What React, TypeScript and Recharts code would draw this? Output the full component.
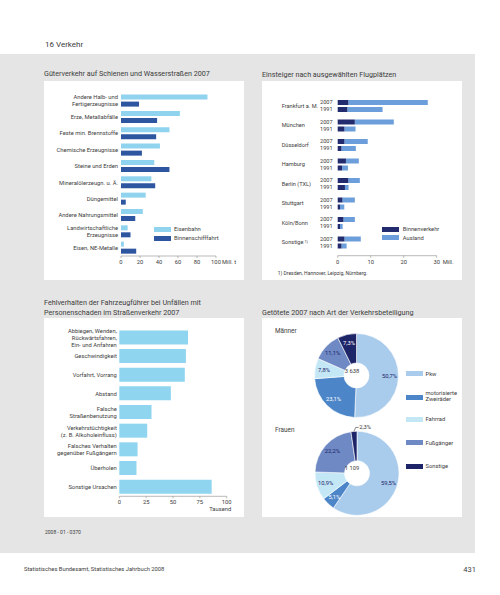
import React from 'react';
import { BarChart, Bar, XAxis, YAxis, PieChart, Pie, Cell } from 'recharts';

const FONT = 'Roboto, "Open Sans", sans-serif';
const TEXT = '#3c3c3c';

// Güterverkehr auf Schienen und Wasserstraßen 2007 (Mill. t)
const goodsCategories = [
  'Andere Halb- und|Fertigerzeugnisse',
  'Erze, Metallabfälle',
  'Feste min. Brennstoffe',
  'Chemische Erzeugnisse',
  'Steine und Erden',
  'Mineralölerzeugn. u. Ä.',
  'Düngemittel',
  'Andere Nahrungsmittel',
  'Landwirtschaftliche|Erzeugnisse',
  'Eisen, NE-Metalle',
];
const railValues = [91, 62, 51, 41, 35, 32, 26, 23, 7, 3];
const waterwayValues = [19, 38, 37, 22, 51, 36, 5, 15, 10, 16];
const goodsTicks = [0, 20, 40, 60, 80, 100];

// Einsteiger nach ausgewählten Flugplätzen (Mill.)
const airports = ['Frankfurt a. M.', 'München', 'Düsseldorf', 'Hamburg', 'Berlin (TXL)', 'Stuttgart', 'Köln/Bonn', 'Sonstige'];
const domestic2007 = [3.3, 5.2, 2.1, 2.5, 3.3, 1.5, 1.8, 2.1];
const abroad2007 = [24.0, 11.8, 7.0, 3.9, 3.4, 3.7, 3.4, 4.9];
const domestic1991 = [3.0, 2.1, 1.2, 1.3, 2.2, 0.7, 0.7, 1.2];
const abroad1991 = [10.6, 3.3, 4.3, 1.8, 1.1, 1.3, 0.8, 1.5];
const flightTicks = [0, 10, 20, 30];

// Fehlverhalten der Fahrzeugführer (Tausend)
const causes = [
  'Abbiegen, Wenden,|Rückwärtsfahren,|Ein- und Anfahren',
  'Geschwindigkeit',
  'Vorfahrt, Vorrang',
  'Abstand',
  'Falsche|Straßenbenutzung',
  'Verkehrstüchtigkeit|(z. B. Alkoholeinfluss)',
  'Falsches Verhalten|gegenüber Fußgängern',
  'Überholen',
  'Sonstige Ursachen',
];
const causeValues = [64, 62, 61, 48, 30, 26, 17, 16, 86];
const causeTicks = [0, 25, 50, 75, 100];

// Getötete 2007 nach Art der Verkehrsbeteiligung (%)
const roadUsers = ['Pkw', 'motorisierte Zweiräder', 'Fahrrad', 'Fußgänger', 'Sonstige'];
const menShares = [50.7, 23.1, 7.8, 11.1, 7.3];
const womenShares = [59.5, 5.1, 10.9, 22.2, 2.3];
const menTotal = '3 638';
const womenTotal = '1 109';

const C = {
  rail: '#8fd3ef',
  water: '#2d55a0',
  domestic: '#212b6e',
  abroad: '#6b9edb',
  cause: '#8fd5f0',
  pie: ['#a9cbec', '#4d86c8', '#c4e7f6', '#6f89c4', '#1e2468'],
  bg: '#e5e5e5',
};

const goodsData = goodsCategories.map((name, i) => ({ name, rail: railValues[i], water: waterwayValues[i] }));
const flightData = airports.map((name, i) => ({
  name,
  d07: domestic2007[i],
  a07: abroad2007[i],
  d91: domestic1991[i],
  a91: abroad1991[i],
}));
const causeData = causes.map((name, i) => ({ name, value: causeValues[i] }));
const menData = roadUsers.map((name, i) => ({ name, value: menShares[i] }));
const womenData = roadUsers.map((name, i) => ({ name, value: womenShares[i] }));

const fmt = (v: number) => v.toFixed(1).replace('.', ',') + '%';

function Txt({ x, y, size = 5.8, children, anchor = 'left', color = TEXT, style = {} }: any) {
  const tx = anchor === 'right' ? 'translate(-100%,-50%)' : anchor === 'center' ? 'translate(-50%,-50%)' : 'translateY(-50%)';
  return (
    <div
      style={{
        position: 'absolute',
        left: x,
        top: y,
        transform: tx,
        fontSize: size,
        lineHeight: 1.2,
        color,
        whiteSpace: 'nowrap',
        fontFamily: FONT,
        ...style,
      }}
    >
      {children}
    </div>
  );
}

function Swatch({ x, y, color, w = 17, h = 5 }: any) {
  return <div style={{ position: 'absolute', left: x, top: y - h / 2, width: w, height: h, background: color }} />;
}

function Panel({ x, y }: any) {
  return <div style={{ position: 'absolute', left: x, top: y, width: 200, height: 199, background: '#fff' }} />;
}

function CategoryTick({ x, y, payload, gap = 7 }: any) {
  const lines = String(payload.value).split('|');
  const start = y - ((lines.length - 1) * gap) / 2;
  return (
    <text x={x} y={start} textAnchor="end" fontSize={5.8} fill={TEXT} fontFamily={FONT}>
      {lines.map((l, i) => (
        <tspan key={i} x={x} y={start + i * gap} dy="0.35em">
          {l}
        </tspan>
      ))}
    </text>
  );
}

function AirportTick({ y, payload }: any) {
  const name = String(payload.value);
  return (
    <g fontSize={5.6} fill={TEXT} fontFamily={FONT}>
      <text x={19.7} y={y} dy="0.35em">
        {name}
        {name === 'Sonstige' ? (
          <tspan fontSize={3.8} dy="-1.5">
            {' '}1)
          </tspan>
        ) : null}
      </text>
      <text x={58} y={y - 3.6} dy="0.35em">2007</text>
      <text x={58} y={y + 3.6} dy="0.35em">1991</text>
    </g>
  );
}

function UnitTick({ x, y, payload, last, unit, below }: any) {
  return (
    <g fontSize={5.8} fill={TEXT} fontFamily={FONT}>
      <text x={x} y={y} dy="0.71em" textAnchor="middle">
        {payload.value}
      </text>
      {payload.value === last && !below ? (
        <text x={x + 6} y={y} dy="0.71em" textAnchor="start">
          {unit}
        </text>
      ) : null}
      {payload.value === last && below ? (
        <text x={x + 4.5} y={y + 7} dy="0.71em" textAnchor="end">
          {unit}
        </text>
      ) : null}
    </g>
  );
}

const RAD = Math.PI / 180;

function pieLabel(props: any) {
  const { cx, cy, midAngle, outerRadius, value, index } = props;
  const cos = Math.cos(-midAngle * RAD);
  const sin = Math.sin(-midAngle * RAD);
  if (value < 3) {
    const sx = cx + outerRadius * cos;
    const sy = cy + outerRadius * sin;
    const ex = cx + (outerRadius + 4) * cos + 2;
    const ey = cy + (outerRadius + 4) * sin;
    return (
      <g>
        <polyline points={`${sx},${sy} ${ex},${ey} ${ex + 3},${ey}`} fill="none" stroke={TEXT} strokeWidth={0.6} />
        <text x={ex + 3.5} y={ey} dy="0.35em" fontSize={5.8} fill={TEXT} fontFamily={FONT}>
          {fmt(value)}
        </text>
      </g>
    );
  }
  const r = 33;
  const light = index === 1 || index === 4;
  return (
    <text
      x={cx + r * cos}
      y={cy + r * sin}
      dy="0.35em"
      textAnchor="middle"
      fontSize={5.8}
      fill={light ? '#ffffff' : '#1e2468'}
      fontFamily={FONT}
    >
      {fmt(value)}
    </text>
  );
}

export default function App() {
  const axisLine = { stroke: '#8a8a8a', strokeWidth: 0.6 };
  return (
    <div style={{ position: 'absolute', left: 0, top: 0, width: 500, height: 595, background: '#fff', fontFamily: FONT, overflow: 'hidden' }}>
      <div style={{ position: 'absolute', left: 0, top: 54, width: 475, height: 499, background: C.bg }} />
      <Panel x={44} y={81} />
      <Panel x={262} y={81} />
      <Panel x={44} y={318} />
      <Panel x={262} y={318} />

      <Txt x={45} y={45} size={8}>16  Verkehr</Txt>
      <Txt x={44} y={73.5} size={7.2}>Güterverkehr auf Schienen und Wasserstraßen 2007</Txt>
      <Txt x={262} y={74.5} size={7.2}>Einsteiger nach ausgewählten Flugplätzen</Txt>
      <Txt x={44} y={303} size={7.2}>Fehlverhalten der Fahrzeugführer bei Unfällen mit</Txt>
      <Txt x={44} y={312.5} size={7.2}>Personenschaden im Straßenverkehr 2007</Txt>
      <Txt x={262} y={312.5} size={7.2}>Getötete 2007 nach Art der Verkehrsbeteiligung</Txt>
      <Txt x={45} y={532} size={5}>2008 - 01 - 0370</Txt>
      <Txt x={24} y={569} size={5.8}>Statistisches Bundesamt, Statistisches Jahrbuch 2008</Txt>
      <Txt x={476} y={569} size={7.5} anchor="right">431</Txt>

      {/* Güterverkehr */}
      <div style={{ position: 'absolute', left: 44, top: 81 }}>
        <BarChart
          width={200}
          height={199}
          data={goodsData}
          layout="vertical"
          margin={{ top: 11.6, right: 28, bottom: 4, left: 0 }}
          barSize={5}
          barGap={2}
        >
          <XAxis
            type="number"
            domain={[0, 100]}
            ticks={goodsTicks}
            height={20}
            axisLine={axisLine}
            tickLine={axisLine}
            tickSize={2}
            tickMargin={2}
            tick={<UnitTick last={100} unit="Mill. t" />}
            interval={0}
          />
          <YAxis
            type="category"
            dataKey="name"
            width={77}
            axisLine={false}
            tickLine={false}
            tickSize={0}
            tickMargin={3}
            tick={<CategoryTick gap={6.7} />}
            interval={0}
          />
          <Bar dataKey="rail" fill={C.rail} isAnimationActive={false} />
          <Bar dataKey="water" fill={C.water} isAnimationActive={false} />
        </BarChart>
      </div>
      <Swatch x={154} y={229} color={C.rail} />
      <Swatch x={154} y={238} color={C.water} />
      <Txt x={174} y={229}>Eisenbahn</Txt>
      <Txt x={174} y={238}>Binnenschifffahrt</Txt>

      {/* Einsteiger */}
      <div style={{ position: 'absolute', left: 262, top: 81 }}>
        <BarChart
          width={200}
          height={199}
          data={flightData}
          layout="vertical"
          margin={{ top: 15, right: 25.3, bottom: 4.3, left: 0 }}
          barSize={5}
          barGap={2}
        >
          <XAxis
            type="number"
            domain={[0, 30]}
            ticks={flightTicks}
            height={20}
            axisLine={axisLine}
            tickLine={axisLine}
            tickSize={2}
            tickMargin={2}
            tick={<UnitTick last={30} unit="Mill." />}
            interval={0}
          />
          <YAxis
            type="category"
            dataKey="name"
            width={75.7}
            axisLine={false}
            tickLine={false}
            tickSize={0}
            tick={<AirportTick />}
            interval={0}
            padding={{ top: 0, bottom: 3.7 }}
          />
          <Bar dataKey="d07" stackId="y07" fill={C.domestic} isAnimationActive={false} />
          <Bar dataKey="a07" stackId="y07" fill={C.abroad} isAnimationActive={false} />
          <Bar dataKey="d91" stackId="y91" fill={C.domestic} isAnimationActive={false} />
          <Bar dataKey="a91" stackId="y91" fill={C.abroad} isAnimationActive={false} />
        </BarChart>
      </div>
      <Swatch x={382} y={229} color={C.domestic} />
      <Swatch x={382} y={237.7} color={C.abroad} />
      <Txt x={402.7} y={229}>Binnenverkehr</Txt>
      <Txt x={402.7} y={237.7}>Ausland</Txt>
      <Txt x={277.7} y={272.7} size={5}>1) Dresden, Hannover, Leipzig, Nürnberg.</Txt>

      {/* Fehlverhalten */}
      <div style={{ position: 'absolute', left: 44, top: 318 }}>
        <BarChart
          width={200}
          height={199}
          data={causeData}
          layout="vertical"
          margin={{ top: 10.4, right: 17.3, bottom: 0.7, left: 0 }}
          barSize={14}
        >
          <XAxis
            type="number"
            domain={[0, 100]}
            ticks={causeTicks}
            height={20}
            axisLine={axisLine}
            tickLine={axisLine}
            tickSize={2}
            tickMargin={2}
            tick={<UnitTick last={100} unit="Tausend" below />}
            interval={0}
          />
          <YAxis
            type="category"
            dataKey="name"
            width={75.3}
            axisLine={false}
            tickLine={false}
            tickSize={0}
            tickMargin={2.5}
            tick={<CategoryTick gap={7} />}
            interval={0}
          />
          <Bar dataKey="value" fill={C.cause} isAnimationActive={false} />
        </BarChart>
      </div>

      {/* Getötete */}
      <div style={{ position: 'absolute', left: 262, top: 318 }}>
        <PieChart width={200} height={199}>
          <Pie
            data={menData}
            dataKey="value"
            cx={89.5}
            cy={52.5}
            innerRadius={12.5}
            outerRadius={42}
            startAngle={90}
            endAngle={-270}
            stroke="#fff"
            strokeWidth={0.6}
            label={pieLabel}
            labelLine={false}
            isAnimationActive={false}
          >
            {menData.map((d, i) => (
              <Cell key={d.name} fill={C.pie[i]} />
            ))}
          </Pie>
          <Pie
            data={womenData}
            dataKey="value"
            cx={90}
            cy={150.3}
            innerRadius={12.5}
            outerRadius={42}
            startAngle={90}
            endAngle={-270}
            stroke="#fff"
            strokeWidth={0.6}
            label={pieLabel}
            labelLine={false}
            isAnimationActive={false}
          >
            {womenData.map((d, i) => (
              <Cell key={d.name} fill={C.pie[i]} />
            ))}
          </Pie>
        </PieChart>
      </div>
      <Txt x={352} y={370.5} anchor="center" size={5.8}>{menTotal}</Txt>
      <Txt x={352} y={468.3} anchor="center" size={5.8}>{womenTotal}</Txt>
      <Txt x={275} y={332.3} size={6.4}>Männer</Txt>
      <Txt x={275} y={431} size={6.4}>Frauen</Txt>

      <Swatch x={406} y={373.7} color={C.pie[0]} />
      <Swatch x={406} y={397.3} color={C.pie[1]} />
      <Swatch x={406} y={419.3} color={C.pie[2]} />
      <Swatch x={406} y={442.7} color={C.pie[3]} />
      <Swatch x={406} y={466} color={C.pie[4]} />
      <Txt x={425.5} y={373.7}>{roadUsers[0]}</Txt>
      <Txt x={425.5} y={395.7} style={{ lineHeight: 1.05 }}>
        motorisierte
        <br />
        Zweiräder
      </Txt>
      <Txt x={425.5} y={419.3}>{roadUsers[2]}</Txt>
      <Txt x={425.5} y={442.7}>{roadUsers[3]}</Txt>
      <Txt x={425.5} y={466}>{roadUsers[4]}</Txt>
    </div>
  );
}
